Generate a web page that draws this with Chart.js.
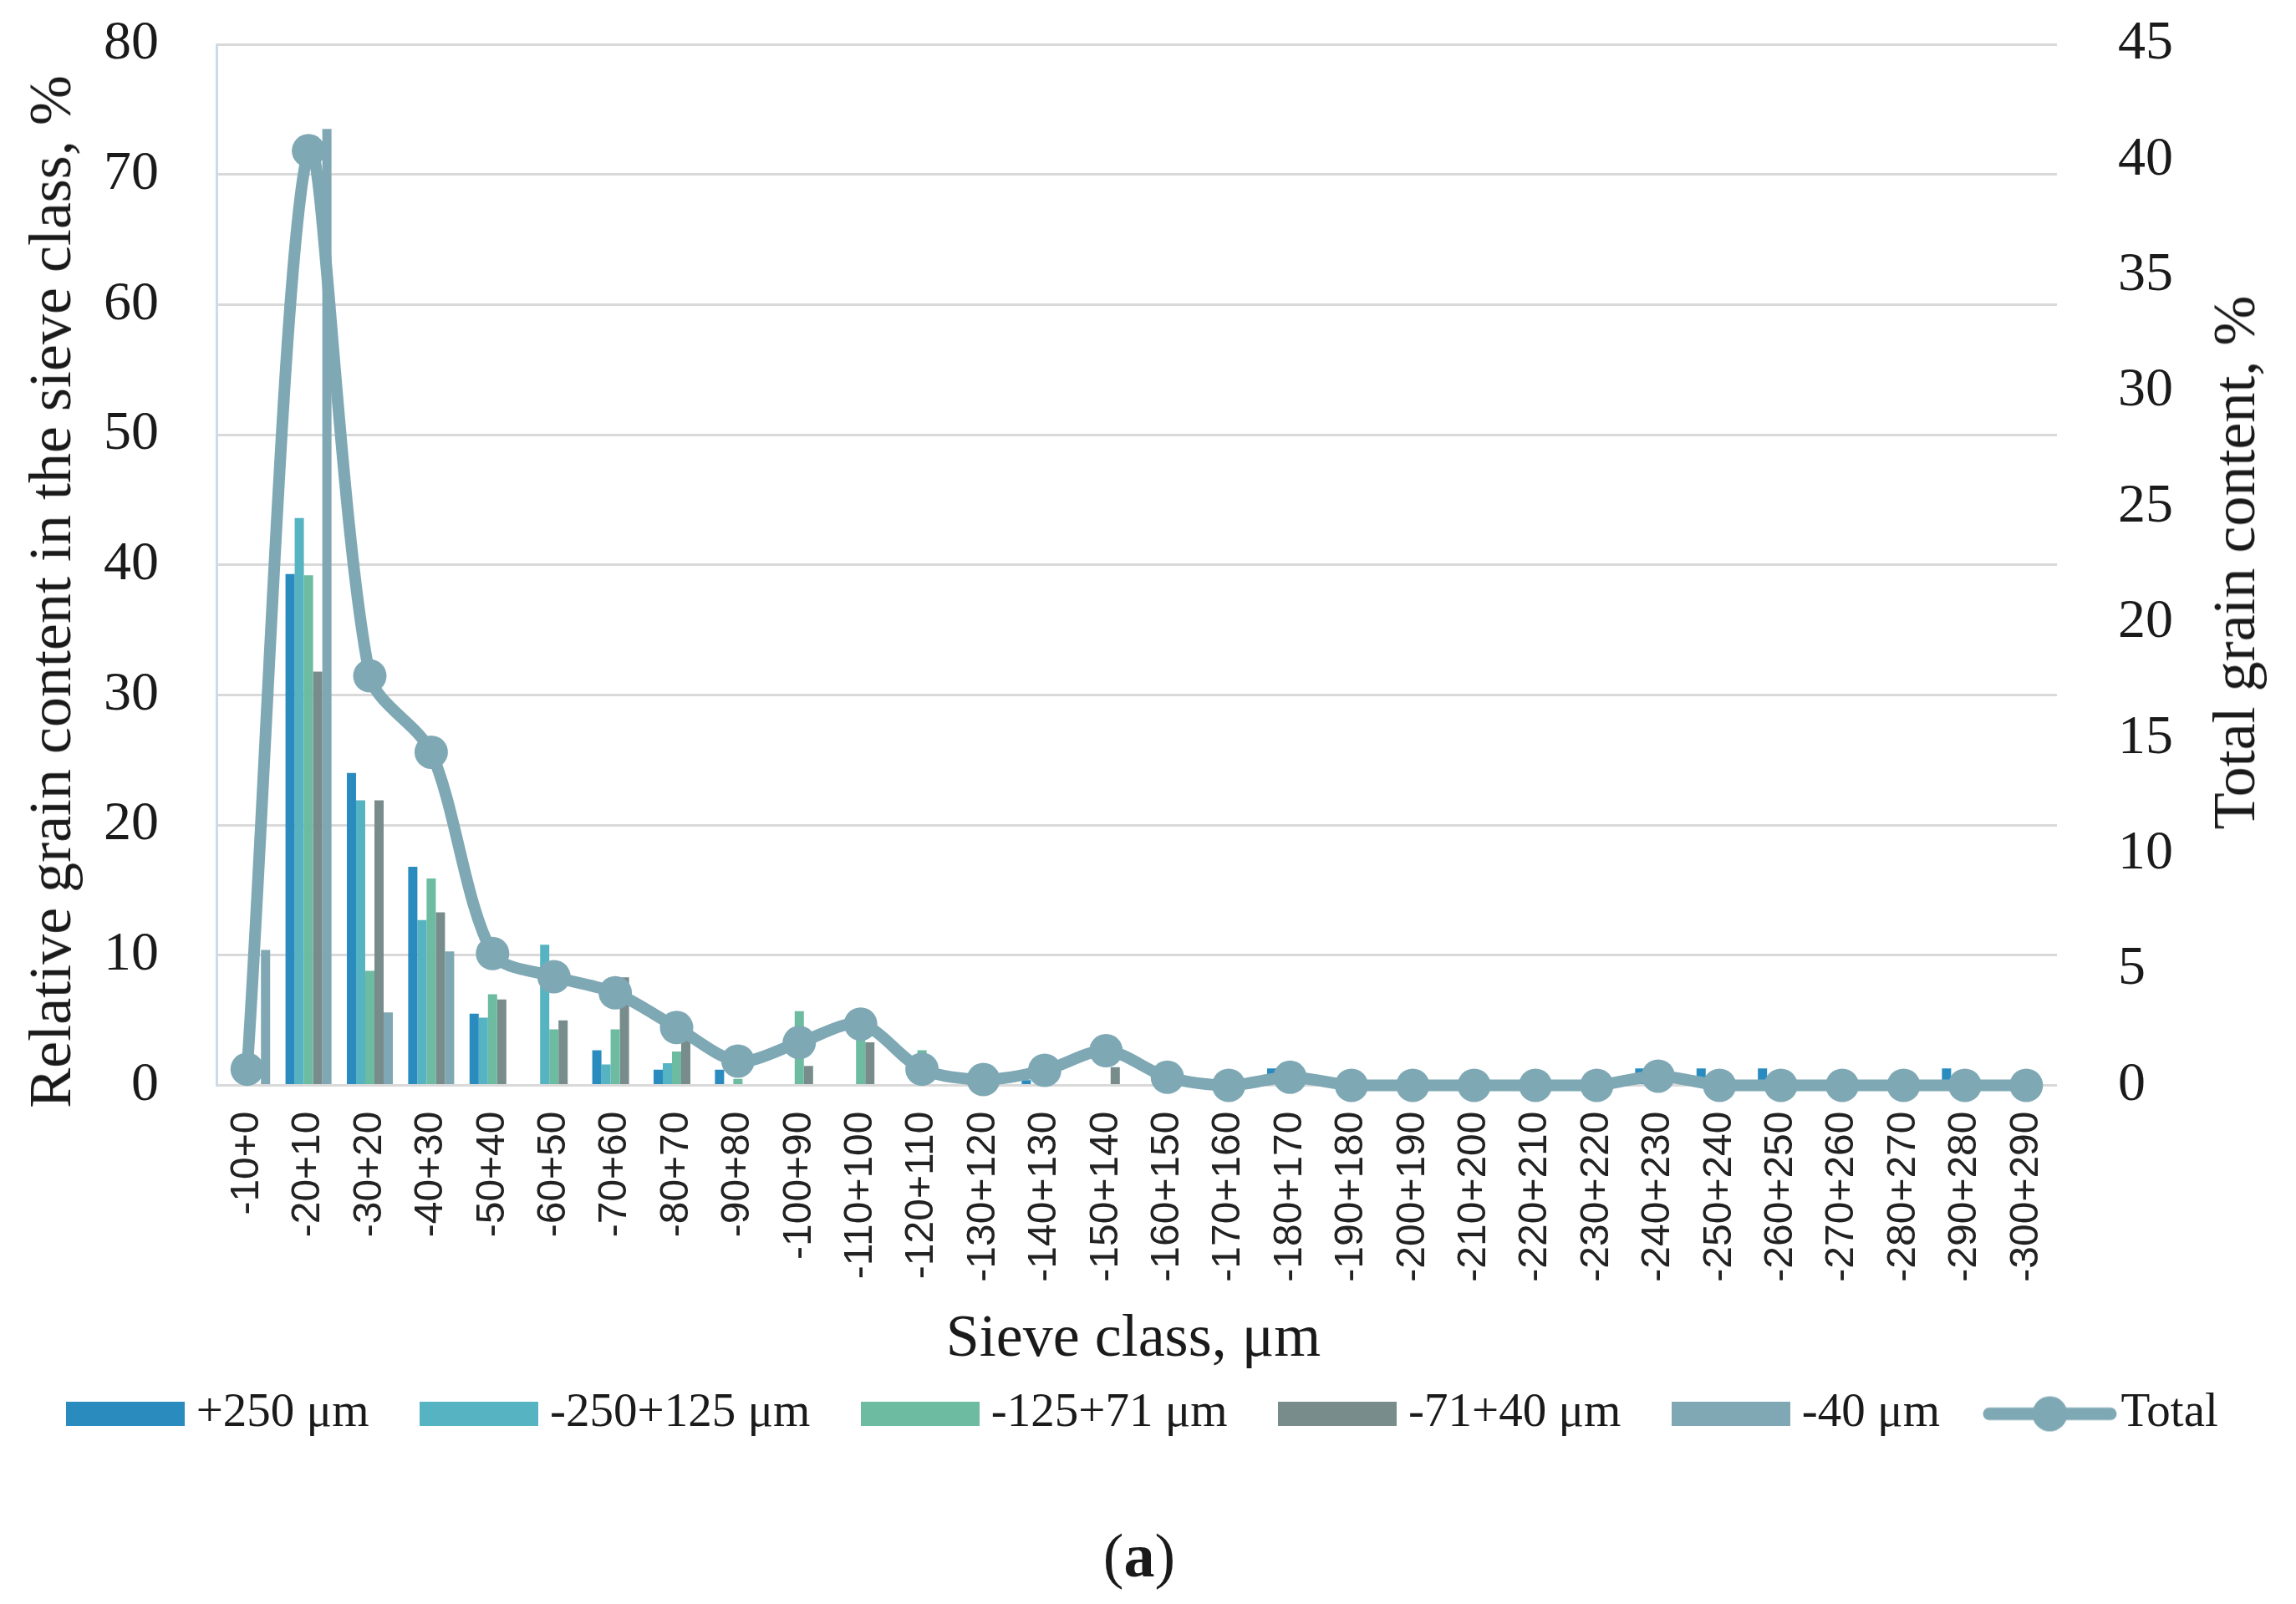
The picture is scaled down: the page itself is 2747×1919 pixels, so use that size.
<!DOCTYPE html>
<html lang="en">
<head>
<meta charset="UTF-8">
<title>Sieve class distribution</title>
<script src="https://cdn.jsdelivr.net/npm/chart.js"></script>
<style>
  body { margin: 0; background: #fff; }
  #wrap { position: relative; width: 2747px; height: 1919px; }
  #wrap canvas { display: block; }
  .lbl { position: absolute; font-family: 'Liberation Serif', serif; color: #1a1a1a; white-space: nowrap; }
  .rot { font-size: 72px; line-height: 72px; transform: translate(-50%, -50%) rotate(-90deg); }
</style>
</head>
<body>
<div id="wrap">
  <canvas id="chart"></canvas>
  <div class="lbl rot" style="left:60px; top:708px;">Relative grain content in the sieve class, %</div>
  <div class="lbl rot" style="left:2673px; top:673px;">Total grain content, %</div>
  <div class="lbl" style="left:1356px; top:1562px; font-size:72px; line-height:72px; transform:translateX(-50%);">Sieve class, μm</div>
  <div class="lbl" style="left:1363px; top:1824px; font-size:74px; line-height:74px; transform:translateX(-50%);">(<b>a</b>)</div>
</div>

<script>
// sieve classes, µm
const categories = ['-10+0', '-20+10', '-30+20', '-40+30', '-50+40', '-60+50', '-70+60', '-80+70',
  '-90+80', '-100+90', '-110+100', '-120+110', '-130+120', '-140+130', '-150+140', '-160+150',
  '-170+160', '-180+170', '-190+180', '-200+190', '-210+200', '-220+210', '-230+220', '-240+230',
  '-250+240', '-260+250', '-270+260', '-280+270', '-290+280', '-300+290'];

// relative grain content per fraction, % (left axis)
const frac250 = [0, 39.3, 24.0, 16.8, 5.5, 0, 2.7, 1.2, 1.2, 0, 0, 0, 0, 0.4, 0, 0, 0, 1.3, 0, 0, 0, 0, 0, 1.3, 1.3, 1.3, 0, 0, 1.3, 0];
const frac250_125 = [0, 43.6, 21.9, 12.7, 5.2, 10.8, 1.6, 1.7, 0, 0, 0, 0, 0, 0, 0, 0, 0, 0, 0, 0, 0, 0, 0, 0, 0, 0, 0, 0, 0, 0];
const frac125_71 = [0, 39.2, 8.8, 15.9, 7.0, 4.3, 4.3, 2.6, 0.5, 5.7, 4.0, 2.7, 0, 0, 0, 0, 0, 0, 0, 0, 0, 0, 0, 0, 0, 0, 0, 0, 0, 0];
const frac71_40 = [0, 31.8, 21.9, 13.3, 6.6, 5.0, 8.3, 3.8, 0, 1.5, 3.3, 0, 0, 0, 1.4, 0, 0, 0, 0, 0, 0, 0, 0, 0, 0, 0, 0, 0, 0, 0];
const frac40 = [10.4, 73.5, 5.6, 10.3, 0, 0, 0, 0, 0, 0, 0, 0, 0, 0, 0, 0, 0, 0, 0, 0, 0, 0, 0, 0, 0, 0, 0, 0, 0, 0];

// total grain content, % (right axis)
const total = [0.7, 40.4, 17.7, 14.4, 5.7, 4.7, 4.0, 2.5, 1.05, 1.85, 2.65, 0.7, 0.25, 0.65, 1.5, 0.35,
  0, 0.35, 0, 0, 0, 0, 0, 0.4, 0, 0, 0, 0, 0, 0];

const seriesNames = ['+250 μm', '-250+125 μm', '-125+71 μm', '-71+40 μm', '-40 μm', 'Total'];
const colors = ['#2a8cbe', '#56b4c2', '#6dbba0', '#788c8c', '#80a8b4'];
const lineColor = '#7fa8b5';

const leftMax = 80, leftStep = 10;
const rightMax = 45, rightStep = 5;

const serif = "'Liberation Serif', serif";
const textColor = '#1a1a1a';
const clear = 'rgba(0,0,0,0)';

// legend icons
function boxIcon(color) {
  const c = document.createElement('canvas');
  c.width = 142; c.height = 29;
  const g = c.getContext('2d');
  g.fillStyle = color;
  g.fillRect(0, 0, 142, 29);
  return c;
}
function lineIcon(color) {
  const c = document.createElement('canvas');
  c.width = 161; c.height = 44;
  const g = c.getContext('2d');
  g.strokeStyle = color;
  g.lineWidth = 15;
  g.lineCap = 'round';
  g.beginPath(); g.moveTo(8, 22); g.lineTo(153, 22); g.stroke();
  g.fillStyle = color;
  g.beginPath(); g.arc(80.5, 22, 21, 0, Math.PI * 2); g.fill();
  return c;
}
const legendIcons = colors.map(boxIcon).concat([lineIcon(lineColor)]);

const barData = [frac250, frac250_125, frac125_71, frac71_40, frac40];
const datasets = barData.map((d, i) => ({
  type: 'bar',
  label: seriesNames[i],
  data: d,
  backgroundColor: colors[i],
  borderWidth: 0,
  yAxisID: 'y',
  order: 1,
  categoryPercentage: 0.75,
  barPercentage: 1.0
}));
datasets.push({
  type: 'line',
  label: seriesNames[5],
  data: total,
  borderColor: lineColor,
  backgroundColor: lineColor,
  borderWidth: 14,
  pointRadius: 20,
  pointBackgroundColor: lineColor,
  pointBorderWidth: 0,
  tension: 0.3,
  yAxisID: 'y2',
  order: 0,
  clip: false
});

const chart = new Chart(document.getElementById('chart'), {
  type: 'bar',
  data: { labels: categories, datasets: datasets },
  options: {
    responsive: true,
    maintainAspectRatio: false,
    animation: false,
    layout: { padding: { top: 53, bottom: 189, left: 0, right: 0 } },
    scales: {
      x: {
        grid: { display: false, drawTicks: false },
        border: { display: false },
        ticks: {
          autoSkip: false, minRotation: 90, maxRotation: 90, padding: 31,
          color: '#222', font: { family: "'Liberation Sans', sans-serif", size: 48 }
        },
        afterFit: (scale) => { scale.height = 289.5; }
      },
      y: {
        position: 'left',
        min: 0, max: leftMax,
        // label gap done with an invisible tick mark, so it does not add top padding
        grid: { color: '#d9d9d9', lineWidth: 3, drawTicks: true, tickLength: 69, tickColor: clear },
        border: { display: true, color: '#c9dcea', width: 3 },
        ticks: { stepSize: leftStep, padding: 0, color: textColor, font: { family: serif, size: 66 } },
        afterFit: (scale) => { scale.width = 259; }
      },
      y2: {
        position: 'right',
        min: 0, max: rightMax,
        grid: { display: true, drawOnChartArea: false, color: clear, drawTicks: true, tickLength: 73, tickColor: clear },
        border: { display: false },
        ticks: { stepSize: rightStep, padding: 0, color: textColor, font: { family: serif, size: 66 } },
        afterFit: (scale) => { scale.width = 286; }
      }
    },
    plugins: {
      tooltip: { enabled: false },
      legend: {
        position: 'bottom',
        labels: {
          usePointStyle: true,
          pointStyleWidth: 113,
          boxHeight: 29,
          padding: 75,
          color: textColor,
          font: { family: serif, size: 57 },
          sort: (a, b) => a.datasetIndex - b.datasetIndex,
          generateLabels: (chart) => {
            const items = Chart.defaults.plugins.legend.labels.generateLabels(chart);
            items.forEach(it => { it.pointStyle = legendIcons[it.datasetIndex]; });
            return items;
          }
        }
      }
    }
  }
});
</script>
</body>
</html>
